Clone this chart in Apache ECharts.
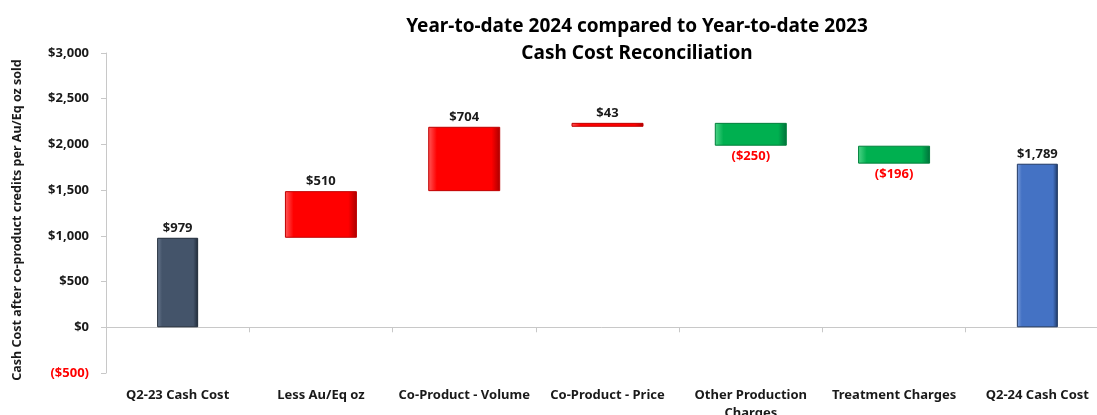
<!DOCTYPE html>
<html>
<head>
<meta charset="utf-8">
<script src="https://cdn.jsdelivr.net/npm/echarts@6/dist/echarts.min.js"></script>
<style>
  html, body { margin: 0; padding: 0; background: #fff; }
  #cashCost { width: 1097px; height: 415px; }
</style>
</head>
<body>
<div id="cashCost"></div>
<script>
// data
const categories = ['Q2-23 Cash Cost', 'Less Au/Eq oz', 'Co-Product - Volume', 'Co-Product - Price',
  'Other Production\nCharges', 'Treatment Charges', 'Q2-24 Cash Cost'];
const totals = [979, null, null, null, null, null, 1789];
const changes = [null, 510, 704, 43, -250, -196, null];
const totalColors = ['#44546a', null, null, null, null, null, '#4472c4'];
const yTicks = { min: -500, max: 3000, step: 500 };

const font = 'Noto Sans';

function money(v) {
  let s = '$' + Math.abs(v).toLocaleString('en-US');
  return v < 0 ? '(' + s + ')' : s;
}

function bevel(base, light, dark) {
  return new echarts.graphic.LinearGradient(0, 0, 1, 0, [
    { offset: 0, color: light },
    { offset: 0.12, color: base },
    { offset: 0.88, color: base },
    { offset: 1, color: dark },
  ]);
}

// running sum -> invisible base of each floating bar
let running = 0;
const base = [], ups = [], downs = [];
for (let i = 0; i < categories.length; i++) {
  if (totals[i] != null) {
    running = totals[i];
    base.push(null); ups.push(null); downs.push(null);
    continue;
  }
  const c = changes[i];
  if (c >= 0) {
    base.push(running); ups.push(c); downs.push(null);
    running += c;
  } else {
    running += c;
    base.push(running); ups.push(null); downs.push(-c);
  }
}

const totalData = totals.map((v, i) => {
  if (v == null) return null;
  const col = totalColors[i];
  const dark = i === 0 ? '#1f2a38' : '#1f3864';
  const light = i === 0 ? '#6b7a90' : '#7fa0dc';
  return { value: v, itemStyle: { color: bevel(col, light, dark), borderColor: dark, borderWidth: 1 } };
});

const labelStyle = { fontFamily: font, fontSize: 13, fontWeight: 'bold', color: '#1a1a1a' };

let myChart = echarts.init(document.getElementById('cashCost'));
myChart.setOption({
  animation: false,
  title: {
    text: 'Year-to-date 2024 compared to Year-to-date 2023\nCash Cost Reconciliation',
    left: 632,
    top: 8,
    textAlign: 'center',
    textStyle: { fontFamily: font, fontSize: 19, fontWeight: 'bold', color: '#000', lineHeight: 27 },
  },
  grid: { left: 106, right: -12, top: 53, bottom: 42, outerBoundsMode: 'none', containLabel: false },
  xAxis: [
    {
      // labels along the bottom
      type: 'category',
      data: categories,
      position: 'bottom',
      axisLine: { show: false, onZero: false },
      axisTick: { show: false },
      axisLabel: Object.assign({ interval: 0, margin: 13, lineHeight: 18 }, labelStyle),
    },
    {
      // the line on zero with its ticks
      type: 'category',
      data: categories,
      position: 'top',
      axisLine: { show: true, onZero: true, lineStyle: { color: '#c8c8c8', width: 1 } },
      axisTick: { show: true, inside: true, interval: 0, length: 5, lineStyle: { color: '#c8c8c8' } },
      axisLabel: { show: false, interval: 0 },
    },
  ],
  yAxis: {
    type: 'value',
    min: yTicks.min,
    max: yTicks.max,
    interval: yTicks.step,
    name: 'Cash Cost after co-product credits per Au/Eq oz sold',
    nameLocation: 'middle',
    nameGap: 82,
    nameTextStyle: { fontFamily: font, fontSize: 12.5, fontWeight: 'bold', color: '#1a1a1a', padding: [0, 14, 0, 0] },
    axisLine: { show: true, lineStyle: { color: '#c8c8c8' } },
    axisTick: { show: true, length: 5, lineStyle: { color: '#c8c8c8' } },
    splitLine: { show: false },
    axisLabel: {
      margin: 17,
      fontFamily: font,
      fontSize: 13,
      fontWeight: 'bold',
      color: function (v) { return v < 0 ? '#ff0000' : '#1a1a1a'; },
      formatter: money,
    },
  },
  series: [
    {
      name: 'Total',
      type: 'bar',
      xAxisIndex: 0,
      barWidth: 41,
      data: totalData,
      label: Object.assign({ show: true, position: 'top', distance: 3, formatter: (p) => money(p.value) }, labelStyle),
    },
    {
      name: 'Base',
      type: 'bar',
      xAxisIndex: 1,
      stack: 'wf',
      barWidth: 72,
      itemStyle: { color: 'transparent' },
      emphasis: { disabled: true },
      data: base,
    },
    {
      name: 'Increase',
      type: 'bar',
      xAxisIndex: 1,
      stack: 'wf',
      barWidth: 72,
      itemStyle: { color: bevel('#ff0000', '#ff5a5a', '#a80000'), borderColor: '#c00000', borderWidth: 1 },
      data: ups,
      label: Object.assign({ show: true, position: 'top', distance: 3, formatter: (p) => money(p.value) }, labelStyle),
    },
    {
      name: 'Decrease',
      type: 'bar',
      xAxisIndex: 1,
      stack: 'wf',
      barWidth: 72,
      itemStyle: { color: bevel('#00b050', '#4fd488', '#00703a'), borderColor: '#00803c', borderWidth: 1 },
      data: downs,
      label: Object.assign({ show: true, position: 'bottom', distance: 4, formatter: (p) => money(-p.value) },
        labelStyle, { color: '#ff0000' }),
    },
  ],
});
</script>
</body>
</html>
